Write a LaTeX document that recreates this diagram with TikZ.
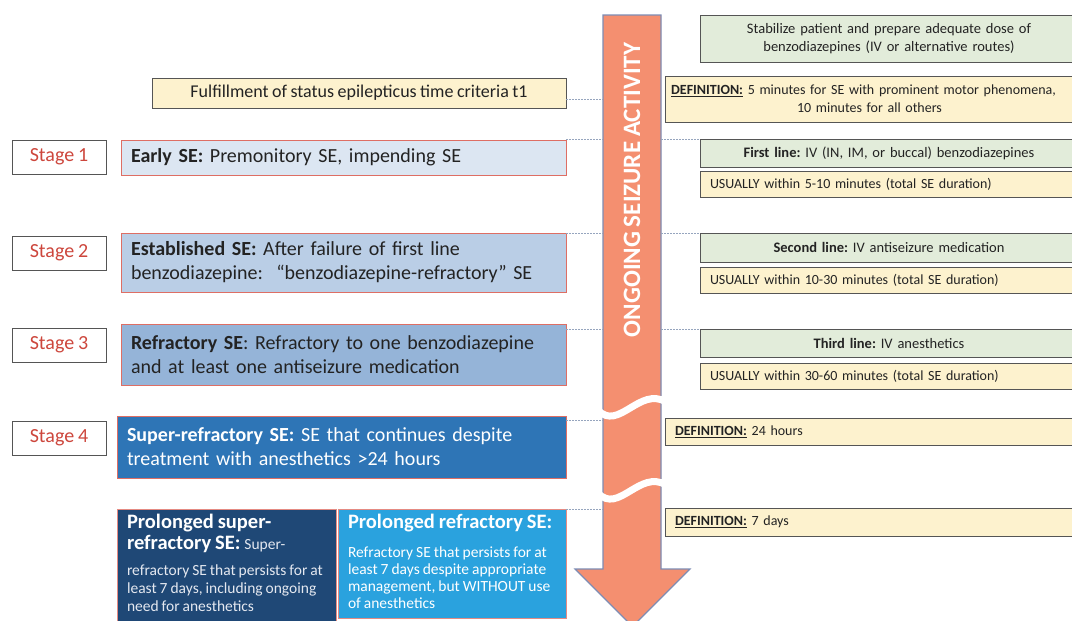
\documentclass[tikz,border=0pt]{standalone}
\usepackage{fontspec}
\setmainfont{Carlito}[WordSpace=0.85]
\definecolor{gfill}{RGB}{226,236,218}
\definecolor{yfill}{RGB}{253,242,206}
\definecolor{bord}{RGB}{85,85,85}
\definecolor{redb}{RGB}{222,110,100}
\definecolor{stagered}{RGB}{205,70,60}
\definecolor{bA}{RGB}{220,230,242}
\definecolor{bB}{RGB}{186,206,230}
\definecolor{bC}{RGB}{149,180,216}
\definecolor{bD}{RGB}{46,117,182}
\definecolor{bE}{RGB}{31,72,118}
\definecolor{bF}{RGB}{42,162,222}
\definecolor{arrfill}{RGB}{244,143,112}
\definecolor{arrbord}{RGB}{125,140,180}
\definecolor{dotc}{RGB}{150,165,190}
\definecolor{txt}{RGB}{35,35,35}
\definecolor{lighttxt}{RGB}{228,232,240}
\newcommand{\fs}[2]{\fontsize{#1}{#2}\selectfont}
\begin{document}
\frenchspacing
\begin{tikzpicture}[x=1pt,y=-1pt,
  every node/.style={inner sep=0pt, outer sep=0pt},
  rbox/.style={draw=bord, line width=0.9pt, anchor=north west, text=txt},
  gbox/.style={rbox, fill=gfill, align=center, font=\fs{14.5}{18.5}},
  ybox/.style={rbox, fill=yfill, align=left, font=\fs{14}{18}, inner xsep=10pt},
  stagelab/.style={draw=bord, line width=0.9pt, fill=white, anchor=north west, minimum width=94pt, minimum height=34pt, text=stagered, font=\fs{20}{24}},
  sbox/.style={draw=redb, line width=0.8pt, anchor=north west, text=txt, align=left, font=\fs{20}{24}, inner xsep=10pt},
  bigbox/.style={draw=redb!80!white, line width=0.9pt, anchor=north west},
  bline/.style={anchor=base west, text=white},
  link/.style={draw=dotc, line width=0.9pt, dash pattern=on 1.5pt off 1.5pt}]
\useasboundingbox[fill=white] (0,0) rectangle (1072,621);

% ---- big arrow
\draw[arrbord, fill=arrfill, line width=1.2pt, line join=miter]
  (603,15) -- (661,15) -- (661,569) -- (690,569) -- (632.5,626.5) -- (575,569) -- (603,569) -- cycle;
\begin{scope}
  \clip (601.5,370) rectangle (662.5,530);
  \draw[white, line width=7pt] (598,410) .. controls (618,432) and (640,386) .. (666,402);
  \draw[white, line width=7pt] (598,493) .. controls (618,515) and (640,469) .. (666,485);
\end{scope}
\node[rotate=90, text=white, font=\fs{25}{30}\bfseries] (arrtxt) at (632,190) {ONGOING SEIZURE ACTIVITY};
\coordinate (arrL) at (603,0);
\coordinate (arrR) at (661,0);

% ---- right column
\node[gbox, minimum width=378pt, minimum height=47pt, text width=358pt] (stab) at (700,15)
  {Stabilize patient and prepare adequate dose of\\benzodiazepines (IV or alternative routes)};
\node[rbox, fill=yfill, align=center, font=\fs{14}{18}, minimum width=415pt, minimum height=46pt, text width=410pt] (def1) at (665,76)
  {\underline{\textbf{DEFINITION:}} 5 minutes for SE with prominent motor phenomena,\makebox[18pt]{}\\10 minutes for all others\makebox[6pt]{}};
\node[gbox, minimum width=378pt, minimum height=28pt, text width=358pt] (first) at (700,139)
  {\textbf{First line:} IV (IN, IM, or buccal) benzodiazepines};
\node[ybox, minimum width=378pt, minimum height=26pt, text width=358pt] (us1) at (700,171)
  {USUALLY within 5-10 minutes (total SE duration)};
\node[gbox, minimum width=378pt, minimum height=29pt, text width=358pt] (second) at (700,233)
  {\textbf{Second line:} IV antiseizure medication};
\node[ybox, minimum width=378pt, minimum height=26pt, text width=358pt] (us2) at (700,267)
  {USUALLY within 10-30 minutes (total SE duration)};
\node[gbox, minimum width=378pt, minimum height=28pt, text width=358pt] (third) at (700,329)
  {\textbf{Third line:} IV anesthetics};
\node[ybox, minimum width=378pt, minimum height=26pt, text width=358pt] (us3) at (700,363)
  {USUALLY within 30-60 minutes (total SE duration)};
\node[ybox, minimum width=415pt, minimum height=27pt, text width=395pt] (def24) at (665,418)
  {\underline{\textbf{DEFINITION:}} 24 hours};
\node[ybox, minimum width=415pt, minimum height=28pt, text width=395pt] (def7) at (665,508)
  {\underline{\textbf{DEFINITION:}} 7 days};

% ---- left column
\node[rbox, fill=yfill, font=\fs{18}{22}, minimum width=414pt, minimum height=30pt] (fulfil) at (152,78)
  {Fulfillment of status epilepticus time criteria t1};

\node[stagelab] (st1) at (12,140) {Stage 1};
\node[stagelab] (st2) at (12,236) {Stage 2};
\node[stagelab] (st3) at (12,328) {Stage 3};
\node[stagelab] (st4) at (12,421) {Stage 4};

\node[sbox, fill=bA, minimum width=445pt, minimum height=35pt, text width=425pt] (early) at (121,140)
  {\textbf{Early SE:} Premonitory SE, impending SE};
\node[sbox, fill=bB, minimum width=445pt, minimum height=59pt, text width=425pt] (estab) at (121,233)
  {\textbf{Established SE:} After failure of first line\\benzodiazepine:\ \ “benzodiazepine-refractory” SE};
\node[sbox, fill=bC, minimum width=445pt, minimum height=61pt, text width=425pt] (refr) at (121,324)
  {\textbf{Refractory SE}: Refractory to one benzodiazepine\\and at least one antiseizure medication};
\node[sbox, fill=bD, text=white, minimum width=449pt, minimum height=62pt, text width=429pt] (super) at (117,416)
  {\textbf{Super-refractory SE:} SE that continues despite\\treatment with anesthetics >24 hours};

% ---- bottom boxes
\node[bigbox, fill=bE, minimum width=219pt, minimum height=118pt] (psr) at (117,509) {};
\node[bigbox, fill=bF, minimum width=228pt, minimum height=109pt] (pr) at (338,509) {};
\node[bline, font=\fs{20.5}{24}\bfseries] (psrA) at (127,528) {Prolonged super-};
\node[bline, font=\fs{20.5}{24}\bfseries] (psrB) at (127,549) {refractory SE: {\fs{15.5}{18}\mdseries\color{lighttxt}Super-}};
\node[bline, text=lighttxt, font=\fs{15.5}{18}] (psrC) at (127,575) {refractory SE that persists for at};
\node[bline, text=lighttxt, font=\fs{15.5}{18}] (psrD) at (127,593) {least 7 days, including ongoing};
\node[bline, text=lighttxt, font=\fs{15.5}{18}] (psrE) at (127,611) {need for anesthetics};
\node[bline, font=\fs{20.5}{24}\bfseries] (prA) at (348,528) {Prolonged refractory SE:};
\node[bline, font=\fs{15.5}{18}] (prB) at (348,557) {Refractory SE that persists for at};
\node[bline, font=\fs{15.5}{18}] (prC) at (348,574) {least 7 days despite appropriate};
\node[bline, font=\fs{15.5}{18}] (prD) at (348,591) {management, but WITHOUT use};
\node[bline, font=\fs{15.5}{18}] (prE) at (348,608) {of anesthetics};

% ---- dotted connectors
\draw[link] (fulfil.east |- def1.west) -- (arrL |- def1.west);
\draw[link] (early.east |- first.north) -- (arrL |- first.north);
\draw[link] (arrR |- first.north) -- (first.north west);
\draw[link] (estab.north east) -- (arrL |- estab.north);
\draw[link] (arrR |- second.north) -- (second.north west);
\draw[link] (refr.east |- third.north) -- (arrL |- third.north);
\draw[link] (arrR |- third.north) -- (third.north west);
\draw[link] (super.east |- 0,420) -- (arrL |- 0,420);
\draw[link] (pr.north east) -- (arrL |- pr.north);
\end{tikzpicture}
\end{document}
